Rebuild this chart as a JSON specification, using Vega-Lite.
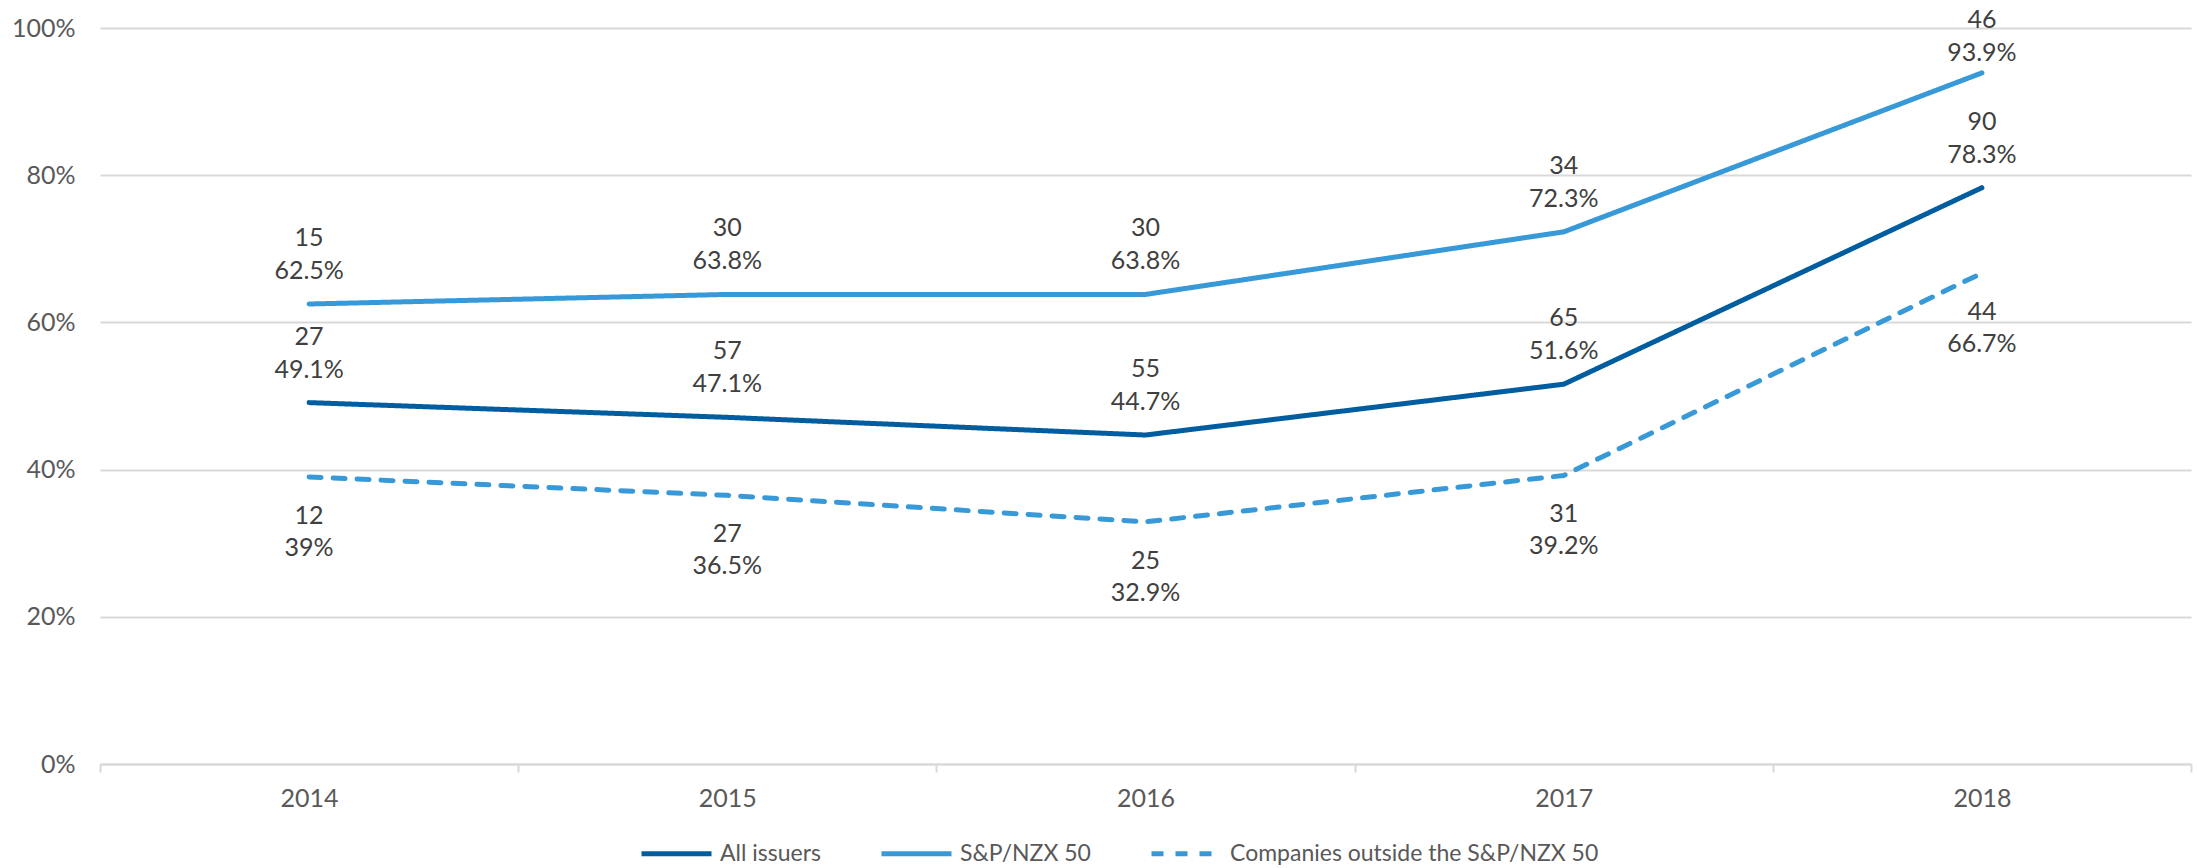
{
  "$schema": "https://vega.github.io/schema/vega-lite/v6.json",
  "width": 2091,
  "height": 736,
  "autosize": {"type": "none"},
  "padding": {"left": 100, "top": 28, "right": 7, "bottom": 104},
  "config": {
    "font": "Lato",
    "view": {"stroke": null},
    "legend": {
      "orient": "none",
      "legendX": 539,
      "legendY": 788,
      "direction": "horizontal",
      "columns": 3,
      "padding": 0,
      "symbolType": "stroke",
      "symbolSize": 4900,
      "symbolStrokeWidth": 5,
      "labelFontSize": 23,
      "labelColor": "#595959",
      "labelFont": "Lato",
      "columnPadding": 50,
      "labelOffset": 6,
      "labelLimit": 600
    }
  },
  "data": {
    "values": [
      {"year": "2014", "series": "All issuers", "value": 49.1, "count": 27, "label": "49.1%"},
      {"year": "2015", "series": "All issuers", "value": 47.1, "count": 57, "label": "47.1%"},
      {"year": "2016", "series": "All issuers", "value": 44.7, "count": 55, "label": "44.7%"},
      {"year": "2017", "series": "All issuers", "value": 51.6, "count": 65, "label": "51.6%"},
      {"year": "2018", "series": "All issuers", "value": 78.3, "count": 90, "label": "78.3%"},
      {"year": "2014", "series": "S&P/NZX 50", "value": 62.5, "count": 15, "label": "62.5%"},
      {"year": "2015", "series": "S&P/NZX 50", "value": 63.8, "count": 30, "label": "63.8%"},
      {"year": "2016", "series": "S&P/NZX 50", "value": 63.8, "count": 30, "label": "63.8%"},
      {"year": "2017", "series": "S&P/NZX 50", "value": 72.3, "count": 34, "label": "72.3%"},
      {"year": "2018", "series": "S&P/NZX 50", "value": 93.9, "count": 46, "label": "93.9%"},
      {"year": "2014", "series": "Companies outside the S&P/NZX 50", "value": 39.0, "count": 12, "label": "39%"},
      {"year": "2015", "series": "Companies outside the S&P/NZX 50", "value": 36.5, "count": 27, "label": "36.5%"},
      {"year": "2016", "series": "Companies outside the S&P/NZX 50", "value": 32.9, "count": 25, "label": "32.9%"},
      {"year": "2017", "series": "Companies outside the S&P/NZX 50", "value": 39.2, "count": 31, "label": "39.2%"},
      {"year": "2018", "series": "Companies outside the S&P/NZX 50", "value": 66.7, "count": 44, "label": "66.7%"}
    ]
  },
  "encoding": {
    "x": {
      "field": "year",
      "type": "ordinal",
      "scale": {"type": "band", "paddingInner": 0, "paddingOuter": 0},
      "axis": {
        "title": null,
        "labelAngle": 0,
        "tickBand": "extent",
        "ticks": true,
        "tickSize": 8,
        "tickColor": "#d9d9d9",
        "tickWidth": 2,
        "domainColor": "#d9d9d9",
        "domainWidth": 2,
        "labelPadding": 14,
        "labelFontSize": 25,
        "labelColor": "#595959",
        "grid": false
      }
    },
    "y": {
      "field": "value",
      "type": "quantitative",
      "scale": {"domain": [0, 100], "nice": false},
      "axis": {
        "title": null,
        "values": [0, 20, 40, 60, 80, 100],
        "labelExpr": "datum.value + '%'",
        "grid": true,
        "gridColor": "#d9d9d9",
        "gridWidth": 2,
        "domain": false,
        "ticks": false,
        "labelPadding": 25,
        "labelFontSize": 25,
        "labelColor": "#595959"
      }
    }
  },
  "layer": [
    {
      "mark": {"type": "line", "strokeWidth": 5, "strokeCap": "round", "strokeJoin": "round"},
      "encoding": {
        "color": {
          "field": "series",
          "type": "nominal",
          "sort": null,
          "scale": {
            "domain": ["All issuers", "S&P/NZX 50", "Companies outside the S&P/NZX 50"],
            "range": ["#005d9f", "#3799d7", "#3799d7"]
          },
          "legend": {"title": null}
        },
        "strokeDash": {
          "field": "series",
          "type": "nominal",
          "sort": null,
          "scale": {
            "domain": ["All issuers", "S&P/NZX 50", "Companies outside the S&P/NZX 50"],
            "range": [[1, 0], [1, 0], [12, 12]]
          },
          "legend": {"title": null}
        }
      }
    },
    {
      "transform": [{"filter": "datum.series != 'Companies outside the S&P/NZX 50' && !(datum.series == 'S&P/NZX 50' && datum.year == '2018')"}],
      "mark": {"type": "text", "dy": -33, "fontSize": 25, "color": "#404040", "baseline": "middle"},
      "encoding": {"text": {"field": "label"}}
    },
    {
      "transform": [{"filter": "datum.series != 'Companies outside the S&P/NZX 50' && !(datum.series == 'S&P/NZX 50' && datum.year == '2018')"}],
      "mark": {"type": "text", "dy": -66, "fontSize": 25, "color": "#404040", "baseline": "middle"},
      "encoding": {"text": {"field": "count"}}
    },
    {
      "transform": [{"filter": "datum.series == 'S&P/NZX 50' && datum.year == '2018'"}],
      "mark": {"type": "text", "dy": -20, "fontSize": 25, "color": "#404040", "baseline": "middle"},
      "encoding": {"text": {"field": "label"}}
    },
    {
      "transform": [{"filter": "datum.series == 'S&P/NZX 50' && datum.year == '2018'"}],
      "mark": {"type": "text", "dy": -53, "fontSize": 25, "color": "#404040", "baseline": "middle"},
      "encoding": {"text": {"field": "count"}}
    },
    {
      "transform": [{"filter": "datum.series == 'Companies outside the S&P/NZX 50'"}],
      "mark": {"type": "text", "dy": 39, "fontSize": 25, "color": "#404040", "baseline": "middle"},
      "encoding": {"text": {"field": "count"}}
    },
    {
      "transform": [{"filter": "datum.series == 'Companies outside the S&P/NZX 50'"}],
      "mark": {"type": "text", "dy": 71, "fontSize": 25, "color": "#404040", "baseline": "middle"},
      "encoding": {"text": {"field": "label"}}
    }
  ]
}
